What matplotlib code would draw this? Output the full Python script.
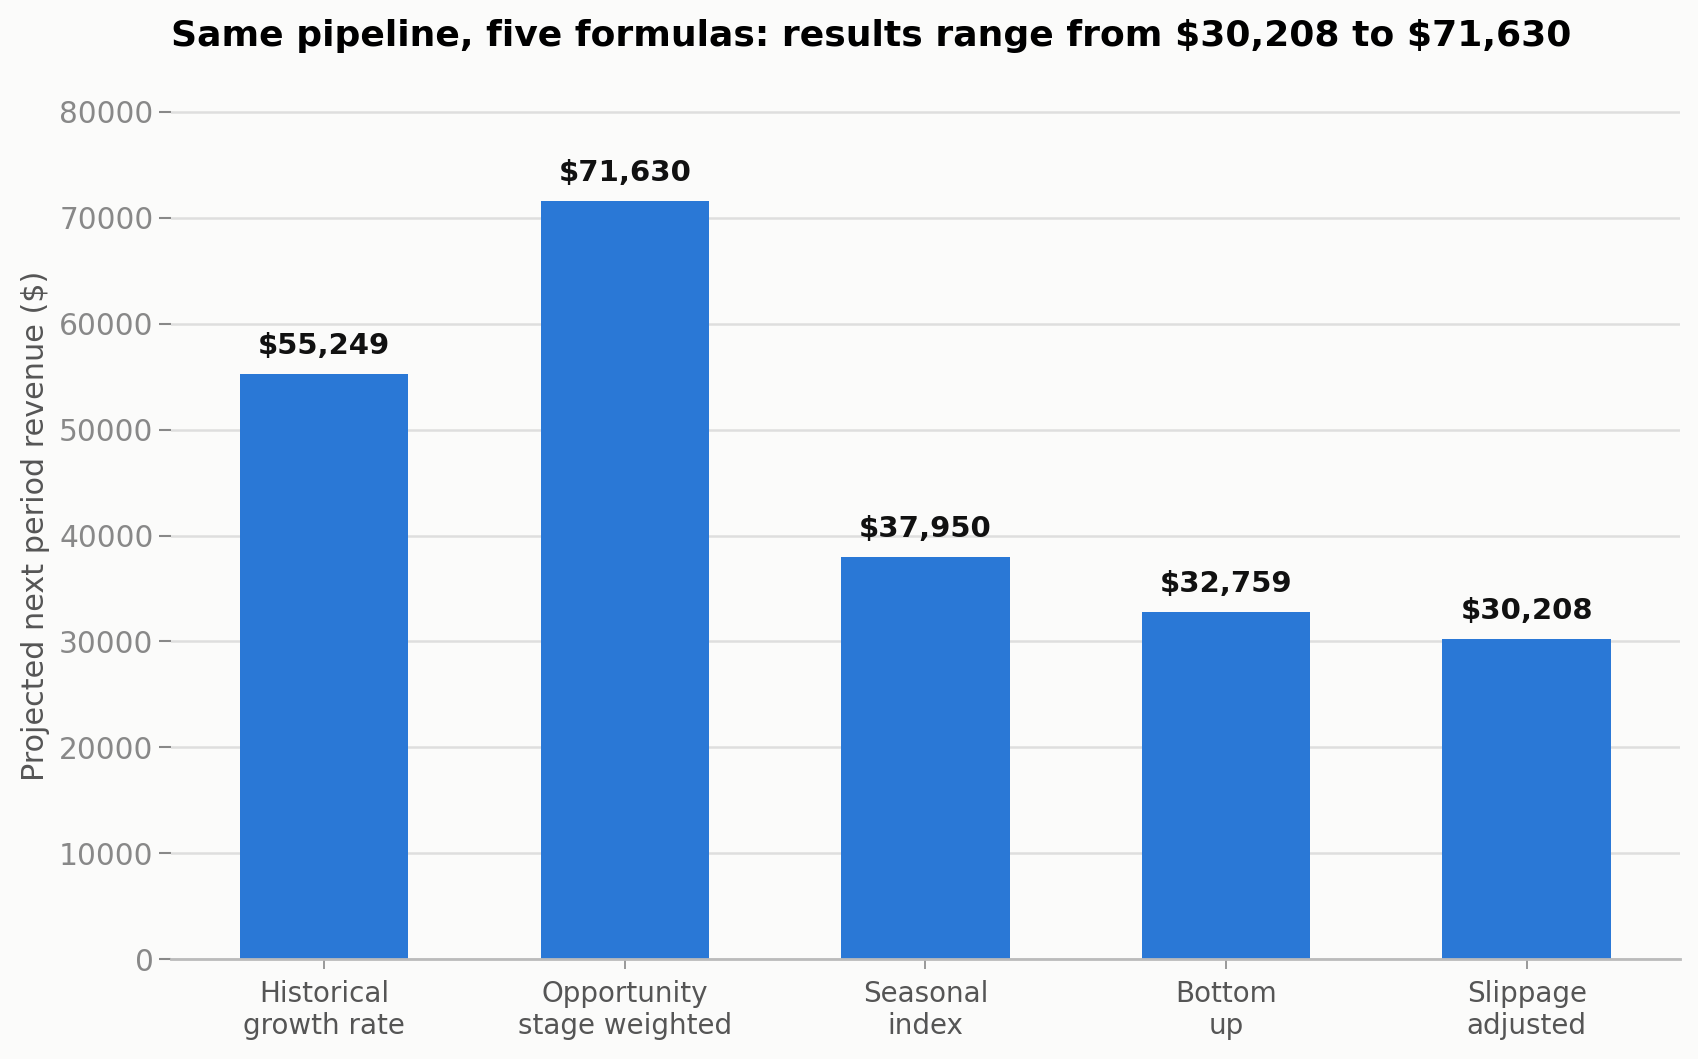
import numpy as np
import matplotlib
matplotlib.use('Agg')
from matplotlib import pyplot as plt

methods = ['Historical\ngrowth rate', 'Opportunity\nstage weighted', 'Seasonal\nindex',
           'Bottom\nup', 'Slippage\nadjusted']
revenue = [55249, 71630, 37950, 32759, 30208]

BG = '#fbfbfa'
BAR = '#2a78d6'


def draw():
    fig = plt.figure(figsize=(16.99, 10.59), dpi=100, facecolor=BG)
    ax = fig.add_axes([0.1006, 0.0944, 0.8882, 0.8021], facecolor=BG)

    x = np.arange(len(methods))
    bars = ax.bar(x, revenue, width=0.56, color=BAR, zorder=3)
    for b, v in zip(bars, revenue):
        ax.annotate('\\${:,}'.format(v), (b.get_x() + b.get_width() / 2, v),
                    xytext=(0, 10), textcoords='offset points',
                    ha='center', va='bottom', fontsize=21, fontweight='bold',
                    color='#111111')

    ax.set_xlim(-0.51, 4.51)
    ax.set_ylim(0, max(revenue) * 1.12)
    ax.set_yticks(np.arange(0, 80001, 10000))
    ax.set_xticks(x)
    ax.set_xticklabels(methods, fontsize=20, color='#555555', linespacing=1.2)
    ax.tick_params(axis='y', labelsize=21.3, labelcolor='#888888', color='#888888',
                   length=9, width=1.5)
    ax.tick_params(axis='x', color='#888888', length=7, width=1.2, pad=8)
    ax.grid(axis='y', color='#dedede', linewidth=1.8, zorder=0)
    for s in ['top', 'right', 'left']:
        ax.spines[s].set_visible(False)
    ax.spines['bottom'].set_color('#bbbbbb')
    ax.spines['bottom'].set_linewidth(2)
    ax.spines['bottom'].set_zorder(4)

    ax.set_ylabel('Projected next period revenue (\\$)', fontsize=21.8, color='#555555')
    ax.yaxis.set_label_coords(-0.080, 0.51)
    fig.suptitle('Same pipeline, five formulas: results range from \\$30,208 to \\$71,630',
                 fontsize=26, fontweight='bold', y=0.966, x=0.513, va='center')
    fig.savefig('out.png', dpi=100, facecolor=BG)


if __name__ == '__main__':
    draw()
